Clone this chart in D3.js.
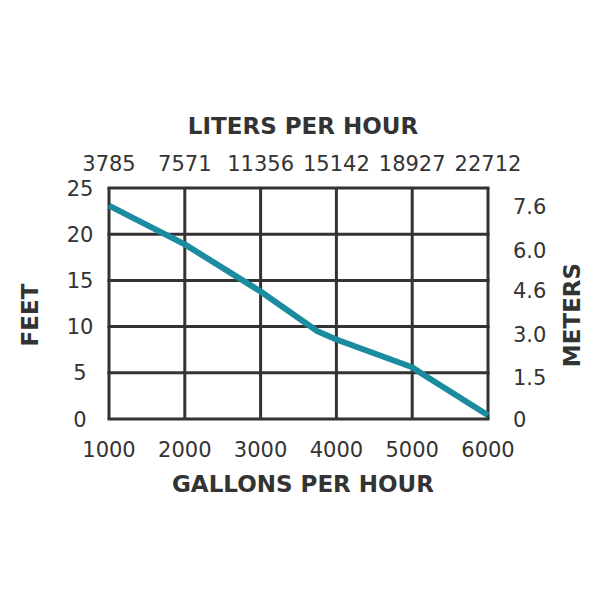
<!DOCTYPE html>
<html><head><meta charset="utf-8">
<script src="https://cdn.jsdelivr.net/npm/d3@7"></script>
<style>body{margin:0;background:#fff}</style>
</head><body>
<svg id="c" width="600" height="600"></svg>
<script>
const gphTicks = [1000, 2000, 3000, 4000, 5000, 6000];
const lphLabels = ["3785", "7571", "11356", "15142", "18927", "22712"];
const feetTicks = [0, 5, 10, 15, 20, 25];
const meterTicks = [0, 1.5, 3.0, 4.6, 6.0, 7.6];
const flowGph = [1000, 2000, 3000, 3750, 4000, 5000, 5150, 6000];
const headFeet = [23.1, 18.9, 13.8, 9.5, 8.6, 5.6, 4.8, 0.4];

const svg = d3.select("#c");
const L = 109, R = 488, T = 188, B = 419;
const x = d3.scaleLinear().domain([1000, 6000]).range([L, R]);
const y = d3.scaleLinear().domain([0, 25]).range([B, T]);
const ym = d3.scaleLinear().domain([0, 8.24]).range([B, T]);
const ink = "#333333";
const font = "DejaVu Sans, Verdana, sans-serif";

// grid
const g = svg.append("g");
g.selectAll(".v").data(gphTicks).join("line")
  .attr("x1", d => x(d)).attr("x2", d => x(d)).attr("y1", T).attr("y2", B)
  .attr("stroke", ink).attr("stroke-width", 3);
g.selectAll(".h").data(feetTicks).join("line")
  .attr("x1", L - 1.5).attr("x2", R + 1.5).attr("y1", d => y(d)).attr("y2", d => y(d))
  .attr("stroke", ink).attr("stroke-width", 3);

// bottom labels
svg.append("g").selectAll("text").data(gphTicks).join("text")
  .attr("x", d => x(d)).attr("y", 457).attr("text-anchor", "middle")
  .attr("font-family", font).attr("font-size", 21).attr("fill", ink).text(d => d);
// top labels
svg.append("g").selectAll("text").data(lphLabels).join("text")
  .attr("x", (d, i) => x(gphTicks[i])).attr("y", 171).attr("text-anchor", "middle")
  .attr("font-family", font).attr("font-size", 21).attr("fill", ink).text(d => d);
// left labels
svg.append("g").selectAll("text").data(feetTicks).join("text")
  .attr("x", 80).attr("y", d => y(d)).attr("dy", "0.36em").attr("text-anchor", "middle")
  .attr("font-family", font).attr("font-size", 21).attr("fill", ink).text(d => d);
// right labels
svg.append("g").selectAll("text").data(meterTicks).join("text")
  .attr("x", 513).attr("y", d => ym(d)).attr("dy", "0.36em").attr("text-anchor", "start")
  .attr("font-family", font).attr("font-size", 21).attr("fill", ink)
  .text(d => d === 0 ? "0" : d.toFixed(1));

// titles
const title = (t, tx, ty, rot) => svg.append("text")
  .attr("transform", `translate(${tx},${ty}) rotate(${rot})`)
  .attr("text-anchor", "middle").attr("font-family", font).attr("font-weight", "bold")
  .attr("font-size", 23).attr("fill", ink).text(t);
title("LITERS PER HOUR", 303, 134, 0);
title("GALLONS PER HOUR", 303, 492, 0);
title("FEET", 38, 315, -90);
title("METERS", 580, 315, -90);

// curve
const pts = flowGph.map((d, i) => [d, headFeet[i]]);
svg.append("path").datum(pts)
  .attr("d", d3.line().x(d => x(d[0])).y(d => y(d[1])))
  .attr("fill", "none").attr("stroke", "#1b8ba0").attr("stroke-width", 6)
  .attr("stroke-linejoin", "round");
</script>
</body></html>
